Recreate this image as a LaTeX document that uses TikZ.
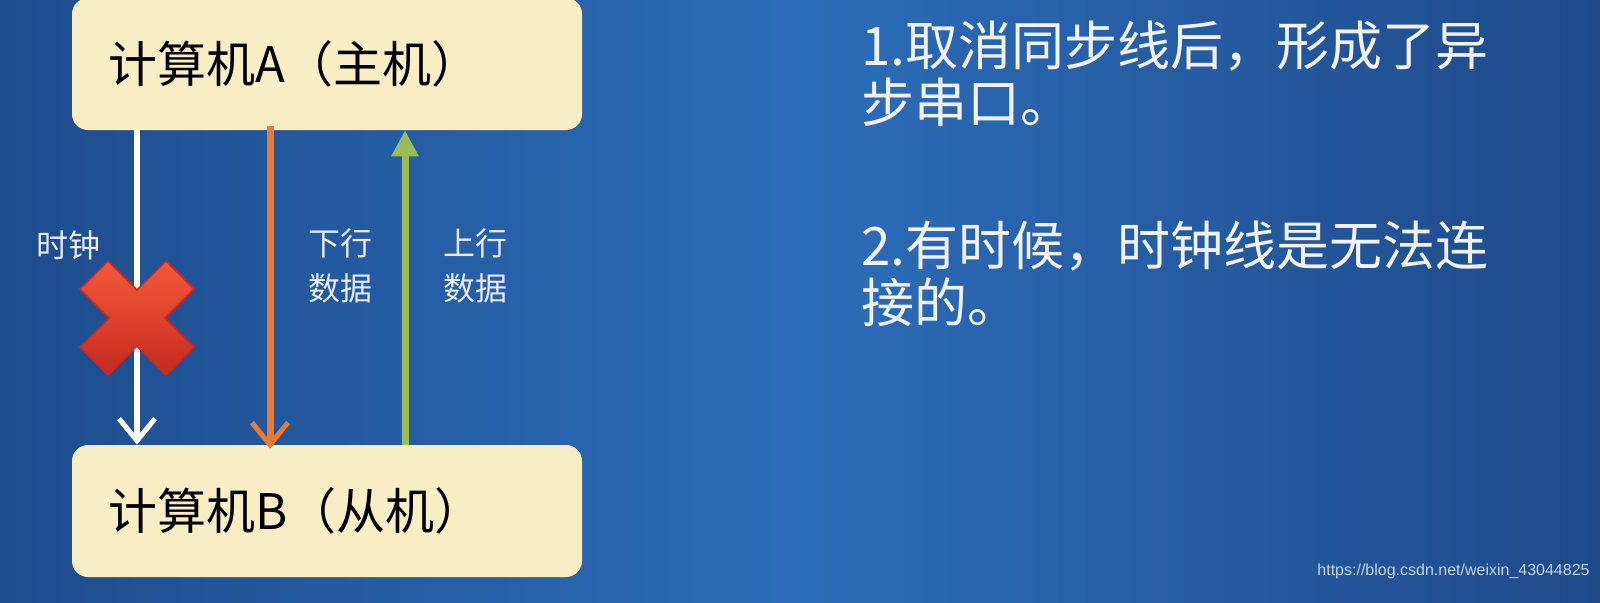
\documentclass[tikz,border=0pt]{standalone}
\usepackage{fontspec}
\newfontfamily\cjk{Noto Sans CJK SC}
\newfontfamily\cjklight{Noto Sans CJK SC}
\newfontfamily\wmfont{Liberation Sans}
\usetikzlibrary{arrows.meta,shadings}
\definecolor{bgleft}{HTML}{1D4C8C}
\definecolor{bgmid}{HTML}{2C6DB9}
\definecolor{bgright}{HTML}{1E4A88}
\definecolor{boxfill}{HTML}{F8EEC6}
\definecolor{orangeline}{HTML}{EE7A30}
\definecolor{greenline}{HTML}{9BBB59}
\definecolor{xtop}{HTML}{F55A3C}
\definecolor{xbot}{HTML}{C42A1E}
\definecolor{xedge}{HTML}{D02818}
\definecolor{wmcol}{HTML}{C8D2E0}
\tikzset{
  hostbox/.style={draw=none, fill=boxfill, rounded corners=8pt, minimum width=255pt, minimum height=66pt,
    text width=219pt, inner xsep=18pt, align=left, font=\cjk\fontsize{24.5}{26}\selectfont, text=black},
  linklabel/.style={font=\cjk\fontsize{16}{22.5}\selectfont, text=white!92!blue, align=center, inner sep=0pt},
  note/.style={font=\cjk\fontsize{26.5}{28.5}\selectfont, text=white!95!blue, align=left, inner sep=0pt, anchor=north west},
  clockline/.style={line width=3pt, white, -{Straight Barb[length=11pt, width=18pt, line width=2.5pt]}},
  downline/.style={line width=3.5pt, orangeline, -{Straight Barb[length=11pt, width=18pt, line width=2.5pt]}},
  upline/.style={line width=3.5pt, greenline, -{Triangle[length=13pt, width=13pt]}}
}
\begin{document}
\begin{tikzpicture}[x=0.5pt, y=-0.5pt]
\useasboundingbox (0,0) rectangle (1600,602);
\shade[left color=bgleft, right color=bgright, middle color=bgmid] (0,0) rectangle (1600,602);

\node[hostbox] (A) at (327,64) {计算机A（主机）};
\node[hostbox] (B) at (327,511) {计算机B（从机）};

\coordinate (c1) at (137,0);
\coordinate (c2) at (270,0);
\coordinate (c3) at (405,0);

\draw[clockline] (A.south -| c1) -- (B.north -| c1);
\draw[downline] ([yshift=2pt]A.south -| c2) -- ([yshift=-2pt]B.north -| c2);
\draw[upline] (B.north -| c3) -- (A.south -| c3);

% red cross
\shade[top color=xtop, bottom color=xbot, draw=xedge, line width=0.8pt]
  (137-57,318-57+28) -- (137-57+28,318-57) -- (137,318-28) -- (137+57-28,318-57) -- (137+57,318-57+28)
  -- (137+28,318) -- (137+57,318+57-28) -- (137+57-28,318+57) -- (137,318+28) -- (137-57+28,318+57)
  -- (137-57,318+57-28) -- (137-28,318) -- cycle;

\node[linklabel] (lclk) at (68,245) {时钟};
\node[linklabel] (ldown) at (340,266) {下行\\数据};
\node[linklabel] (lup) at (475,266) {上行\\数据};

\node[note] (n1) at (861,20) {1.取消同步线后，形成了异\\步串口。};
\node[note] (n2) at (861,220) {2.有时候，时钟线是无法连\\接的。};

\node[font=\wmfont\fontsize{8}{9}\selectfont, text=wmcol, anchor=east, inner sep=0pt] (wm) at (1590,571) {https://blog.csdn.net/weixin\_43044825};
\end{tikzpicture}
\end{document}
